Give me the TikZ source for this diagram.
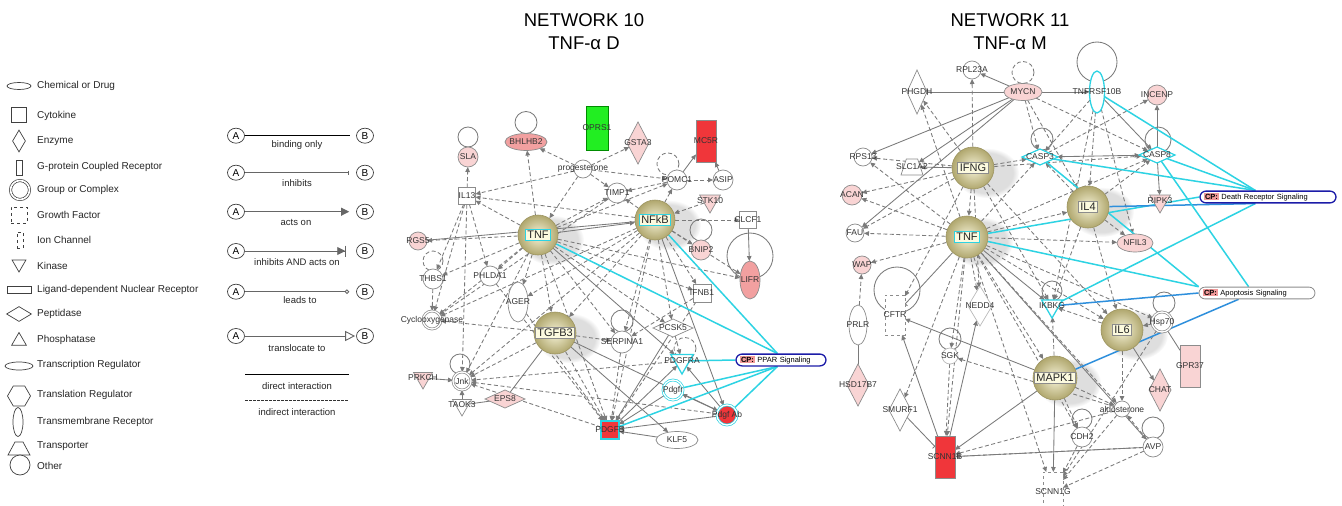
\documentclass[tikz,border=0pt]{standalone}
\usepackage{fontspec}
\setmainfont{Liberation Sans}
\usetikzlibrary{shapes.geometric,arrows.meta,calc,fadings}
\pgfdeclarelayer{paperlayer}
\pgfdeclarelayer{shadowlayer}
\pgfdeclarelayer{edgelayer}
\pgfsetlayers{paperlayer,shadowlayer,edgelayer,main}

\definecolor{ngray}{HTML}{8C8C8C}
\definecolor{egray}{HTML}{7A7A7A}
\definecolor{pinkA}{HTML}{F9D4D4}
\definecolor{pinkB}{HTML}{F2A0A0}
\definecolor{redA}{HTML}{F0363A}
\definecolor{greenA}{HTML}{22EE22}
\definecolor{goldIn}{HTML}{F6F3D8}
\definecolor{goldOut}{HTML}{B0A76E}
\definecolor{goldEdge}{HTML}{9C9460}
\definecolor{cream}{HTML}{FCFADF}
\definecolor{cyanA}{HTML}{2DD3E3}
\definecolor{blueA}{HTML}{2E8FDC}
\definecolor{cpblue}{HTML}{1C1CA8}
\definecolor{cppink}{HTML}{F29A9A}

\newcommand\legfont{\fontsize{10}{12}\selectfont}
\newcommand\lblfont{\fontsize{8.5}{9}\selectfont}
\newcommand\bigfont{\fontsize{11}{12}\selectfont}
\newcommand\cpfont{\fontsize{7.5}{8}\selectfont}
\newcommand\ttlfont{\fontsize{18.5}{22}\selectfont}
\newcommand\cptag{{\setlength{\fboxsep}{1pt}\colorbox{cppink}{\textbf{CP:}}}}

\tikzset{
  nd/.style={draw=ngray, line width=0.7pt, fill=white, inner sep=0pt, outer sep=0pt},
  nlbl/.style={font=\lblfont, text=black!80, inner sep=0pt},
  lab/.style={label={[nlbl]center:#1}},
  circ/.style={nd, circle, minimum size=#1},
  circ/.default=20pt,
  dbl/.style={nd, circle, double=white, double distance=1.3pt, minimum size=#1},
  dbl/.default=18pt,
  ell/.style 2 args={nd, ellipse, minimum width=#1, minimum height=#2},
  rect/.style 2 args={nd, rectangle, minimum width=#1, minimum height=#2},
  dia/.style 2 args={nd, diamond, minimum width=#1, minimum height=#2},
  kin/.style={nd, regular polygon, regular polygon sides=3, shape border rotate=180, minimum size=#1},
  kin/.default=24pt,
  trap/.style={nd, trapezium, trapezium stretches=true, trapezium left angle=65, trapezium right angle=65, inner sep=1pt, minimum width=22pt, minimum height=16pt},
  bignode/.style={circle, minimum size=#1, inner sep=0pt, draw=goldEdge, line width=0.6pt, inner color=goldIn, outer color=goldOut},
  biglbl/.style={draw=#1, fill=cream, line width=0.8pt, inner xsep=2pt, inner ysep=1.5pt, font=\bigfont, text=black!85},
  biglbl/.default=ngray,
  dedge/.style={draw=egray, line width=0.85pt, dash pattern=on 4pt off 2.5pt, -{Triangle[length=5pt,width=4.5pt]}},
  sedge/.style={draw=egray, line width=0.85pt, -{Triangle[length=5pt,width=4.5pt]}},
  sline/.style={draw=egray, line width=0.85pt},
  dline/.style={draw=egray, line width=0.85pt, dash pattern=on 4pt off 2.5pt},
  ibedge/.style={draw=egray, line width=0.85pt, -{Bar[width=6pt]}},
  cyanedge/.style={draw=cyanA, line width=1.5pt},
  blueedge/.style={draw=blueA, line width=1.5pt},
  cpbox/.style={draw=#1, fill=white, line width=1.3pt, rounded corners=6pt, inner xsep=4pt, inner ysep=2pt, font=\cpfont, align=left},
  legtxt/.style={anchor=west, inner sep=0pt, font=\legfont, text=black!85},
  legsym/.style={draw=black!75, line width=0.7pt, fill=white, inner sep=0pt},
  abnode/.style={draw=black!75, line width=0.7pt, ellipse, minimum width=17pt, minimum height=15pt, inner sep=0pt, font=\legfont},
  elbl/.style={inner sep=0pt, font=\fontsize{9.5}{11}\selectfont, text=black!85},
  legline/.style={draw=black!60, line width=0.9pt, shorten >=7pt},
  ttl/.style={inner sep=0pt, font=\ttlfont},
  shadowblob/.style={fill=black!13, path fading=circle with fuzzy edge 20 percent}
}

\begin{document}
\begin{tikzpicture}[x=1pt, y=-1pt]
\useasboundingbox (0,0) rectangle (1342,506);
\begin{pgfonlayer}{paperlayer}
  \fill[white] (0,0) rectangle (1342,506);
\end{pgfonlayer}

% ---------------- node shape legend ----------------
\node[legsym, ellipse, minimum width=24pt, minimum height=7pt] (s1) at (19,86) {};
\node[legtxt] (l1) at (37,86) {Chemical or Drug};
\node[legsym, rectangle, minimum size=15pt] (s2) at (19,115) {};
\node[legtxt] (l2) at (37,116) {Cytokine};
\node[legsym, diamond, minimum width=13pt, minimum height=22pt] (s3) at (19,141) {};
\node[legtxt] (l3) at (37,141) {Enzyme};
\node[legsym, rectangle, minimum width=6pt, minimum height=15pt] (s4) at (19,168) {};
\node[legtxt] (l4) at (37,167) {G-protein Coupled Receptor};
\node[legsym, circle, double=white, double distance=1.6pt, minimum size=19pt] (s5) at (20,190) {};
\node[legtxt] (l5) at (37,190) {Group or Complex};
\node[legsym, rectangle, dashed, minimum size=16pt] (s6) at (19,215) {};
\node[legtxt] (l6) at (37,215) {Growth Factor};
\node[legsym, rectangle, dashed, minimum width=6pt, minimum height=16pt] (s7) at (20,240) {};
\node[legtxt] (l7) at (37,240) {Ion Channel};
\node[legsym, regular polygon, regular polygon sides=3, shape border rotate=180, minimum size=16pt] (s8) at (19,264) {};
\node[legtxt] (l8) at (37,266) {Kinase};
\node[legsym, rectangle, minimum width=24pt, minimum height=7pt] (s9) at (19,290) {};
\node[legtxt] (l9) at (37,290) {Ligand-dependent Nuclear Receptor};
\node[legsym, diamond, minimum width=25pt, minimum height=15pt] (s10) at (19,314) {};
\node[legtxt] (l10) at (37,314) {Peptidase};
\node[legsym, regular polygon, regular polygon sides=3, minimum size=17pt] (s11) at (19,341) {};
\node[legtxt] (l11) at (37,340) {Phosphatase};
\node[legsym, ellipse, minimum width=28pt, minimum height=8pt] (s12) at (19,366) {};
\node[legtxt] (l12) at (37,365) {Transcription Regulator};
\node[legsym, regular polygon, regular polygon sides=6, minimum size=23pt] (s13) at (19,396) {};
\node[legtxt] (l13) at (37,395) {Translation Regulator};
\node[legsym, ellipse, minimum width=10pt, minimum height=29pt] (s14) at (18,422) {};
\node[legtxt] (l14) at (37,422) {Transmembrane Receptor};
% transporter symbol: a trapezium drawn around a named anchor point
\coordinate (s15) at (19,448);
\draw[legsym] ($(s15)+(-11,7)$) -- ($(s15)+(11,7)$) -- ($(s15)+(4,-6)$) -- ($(s15)+(-4,-6)$) -- cycle;
\node[legtxt] (l15) at (37,446) {Transporter};
\node[legsym, circle, minimum size=20pt] (s16) at (20,465) {};
\node[legtxt] (l16) at (37,466) {Other};

% ---------------- relationship legend ----------------
\foreach \i/\y in {1/135.7, 2/172.7, 3/211.7, 4/251, 5/291.7, 6/336} {
  \node[abnode] (a\i) at (236,\y) {A};
  \node[abnode] (b\i) at (365,\y) {B};
}
\draw[draw=black, line width=0.9pt, shorten >=6pt] (a1) -- (b1);
\draw[legline, -{Bar[width=4pt]}] (a2) -- (b2);
\draw[legline, -{Triangle[length=8pt,width=8pt]}] (a3) -- (b3);
\draw[legline, shorten >=10pt, -{Triangle[length=8pt,width=8pt] Bar[width=11pt]}] (a4) -- (b4);
\draw[legline, -{Circle[open,length=4.5pt]}] (a5) -- (b5);
\draw[legline, shorten >=1pt, -{Triangle[open,length=10pt,width=10pt]}] (a6) -- (b6);
\node[elbl] (e1) at (297,145) {binding only};
\node[elbl] (e2) at (297,183.5) {inhibits};
\node[elbl] (e3) at (296,222.3) {acts on};
\node[elbl] (e4) at (297,262) {inhibits AND acts on};
\node[elbl] (e5) at (300,300.5) {leads to};
\node[elbl] (e6) at (297,348.3) {translocate to};
\coordinate (dA) at (245,374);
\coordinate (dB) at (349,374);
\coordinate (iA) at (245,400);
\coordinate (iB) at (349,400);
\draw[black, line width=0.8pt] (dA) -- (dB);
\draw[black!80, line width=0.8pt, dash pattern=on 2.5pt off 1.5pt] (iA) -- (iB);
\node[elbl] (e7) at (297,385.7) {direct interaction};
\node[elbl] (e8) at (297,412) {indirect interaction};

% ---------------- titles ----------------
\node[ttl] (t10a) at (584,20) {NETWORK 10};
\node[ttl] (t10b) at (584,43) {TNF-α D};
\node[ttl] (t11a) at (1010,20) {NETWORK 11};
\node[ttl] (t11b) at (1010,43) {TNF-α M};

% ================= NETWORK 10 =================
\node[circ, fill=pinkA, lab=SLA] (sla) at (468,157) {};
\node[ell={42pt}{17pt}, fill=pinkB, lab=BHLHB2] (bhlhb2) at (526,142) {};
\node[rect={22pt}{44pt}, fill=greenA, draw=green!55!black, lab=OPRS1] (oprs1) at (597,128) {};
\node[dia={22pt}{42pt}, fill=pinkA, lab=GSTA3] (gsta3) at (638,143) {};
\node[rect={20pt}{42pt}, fill=redA, lab=MC5R] (mc5r) at (706,141) {};
\node[circ=18pt, lab=progesterone] (prog) at (583,169) {};
\node[circ, lab=POMC1] (pomc1) at (677,180) {};
\node[circ, lab=ASIP] (asip) at (723,180) {};
\node[circ, lab=TIMP1] (timp1) at (617,193) {};
\node[kin, fill=pinkA, lab=STK10] (stk10) at (710,201) {};
\node[rect={17pt}{17pt}, lab=IL13] (il13) at (467,196) {};
\node[rect={17pt}{17pt}, lab=CLCF1] (clcf1) at (748,220) {};
\node[circ=18pt, fill=pinkA, lab=RGS5] (rgs5) at (418,241) {};
\node[circ, fill=pinkA, lab=BNIP2] (bnip2) at (701,250) {};
\node[ell={20pt}{38pt}, fill=pinkB, lab=LIFR] (lifr) at (750,280) {};
\node[circ, lab=THBS1] (thbs1) at (433,279) {};
\node[circ, lab=PHLDA1] (phlda1) at (490,276) {};
\node[rect={18pt}{18pt}, lab=IFNB1] (ifnb1) at (702,293) {};
\node[ell={20pt}{40pt}, lab=AGER] (ager) at (518,302) {};
\node[dbl, lab=Cyclooxygenase] (cyclo) at (432,320) {};
\node[dia={40pt}{18pt}, lab=PCSK5] (pcsk5) at (673,328) {};
\node[circ=22pt, lab=SERPINA1] (serpina1) at (622,342) {};
\node[kin=26pt, draw=cyanA, line width=1.3pt, lab=PDGFRA] (pdgfra) at (682,361) {};
\node[dbl=20pt, draw=cyanA, lab=Pdgfr] (pdgfr) at (673,390) {};
\node[dbl, lab=Jnk] (jnk) at (462,381) {};
\node[kin=22pt, fill=pinkA, lab=PRKCH] (prkch) at (423,378) {};
\node[kin=22pt, lab=TAOK3] (taok3) at (462,405) {};
\node[dia={40pt}{18pt}, fill=pinkA, lab=EPS8] (eps8) at (505,399) {};
\node[dbl=20pt, fill=redA, draw=cyanA, lab=Pdgf Ab] (pdgfab) at (727,415) {};
\node[rect={18pt}{18pt}, fill=redA, draw=cyanA, line width=1.2pt, lab=PDGFB] (pdgfb) at (610,430) {};
\node[ell={42pt}{17pt}, lab=KLF5] (klf5) at (677,440) {};

\node[bignode=40pt] (tnf10) at (538,235) {};
\node[biglbl=cyanA] (tnf10l) at (tnf10) {TNF};
\node[bignode=40pt] (nfkb) at (655,220) {};
\node[biglbl=cyanA] (nfkbl) at (nfkb) {NFkB};
\node[bignode=42pt] (tgfb3) at (555,333) {};
\node[biglbl] (tgfb3l) at (tgfb3) {TGFB3};

\node[cpbox=cpblue, text width=82pt] (ppar) at (781,360) {\cptag\ PPAR Signaling};

% ================= NETWORK 11 =================
\node[circ=18pt, lab=RPL23A] (rpl23a) at (972,70) {};
\node[dia={20pt}{44pt}, lab=PHGDH] (phgdh) at (917,92) {};
\node[ell={38pt}{17pt}, fill=pinkA, lab=MYCN] (mycn) at (1023,92) {};
\node[ell={15pt}{42pt}, draw=cyanA, line width=1.3pt, lab=TNFRSF10B] (tnfrsf) at (1097,92) {};
\node[circ, fill=pinkA, lab=INCENP] (incenp) at (1157,95) {};
\node[circ=18pt, lab=RPS13] (rps13) at (863,157) {};
\node[trap, lab=SLC1A2] (slc1a2) at (912,167) {};
\node[dia={36pt}{16pt}, draw=cyanA, line width=1.2pt, lab=CASP3] (casp3) at (1040,157) {};
\node[dia={36pt}{16pt}, draw=cyanA, line width=1.2pt, lab=CASP8] (casp8) at (1157,155) {};
\node[circ, fill=pinkA, lab=ACAN] (acan) at (852,195) {};
\node[kin, fill=pinkA, lab=RIPK3] (ripk3) at (1160,201) {};
\node[circ=18pt, lab=FAU] (fau) at (855,233) {};
\node[ell={36pt}{18pt}, fill=pinkA, lab=NFIL3] (nfil3) at (1135,243) {};
\node[circ=18pt, fill=pinkA, lab=WAP] (wap) at (862,265) {};
\node[rect={20pt}{40pt}, dashed, lab=CFTR] (cftr) at (895,315) {};
\node[dia={24pt}{40pt}, draw=ngray!60, lab=NEDD4] (nedd4) at (980,306) {};
\node[kin, draw=cyanA, line width=1.3pt, lab=IKBKG] (ikbkg) at (1052,306) {};
\node[dbl=20pt, lab=Hsp70] (hsp70) at (1162,322) {};
\node[ell={18pt}{40pt}, lab=PRLR] (prlr) at (858,325) {};
\node[circ=16pt, draw=ngray!60, lab=SGK] (sgk) at (950,356) {};
\node[rect={20pt}{42pt}, fill=pinkA, lab=GPR37] (gpr37) at (1190,366) {};
\node[dia={22pt}{42pt}, fill=pinkA, lab=CHAT] (chat) at (1160,390) {};
\node[dia={22pt}{42pt}, fill=pinkA, lab=HSD17B7] (hsd17b7) at (858,385) {};
\node[dia={22pt}{42pt}, lab=SMURF1] (smurf1) at (900,410) {};
\node[circ=16pt, lab=aldosterone] (aldo) at (1122,409) {};
\node[circ, lab=CDH2] (cdh2) at (1082,437) {};
\node[circ, lab=AVP] (avp) at (1153,447) {};
\node[rect={20pt}{42pt}, fill=redA, lab=SCNN1B] (scnn1b) at (945,457) {};
\node[rect={20pt}{40pt}, dashed, lab=SCNN1G] (scnn1g) at (1053,492) {};

\node[bignode=42pt] (ifng) at (973,168) {};
\node[biglbl] (ifngl) at (ifng) {IFNG};
\node[bignode=42pt] (il4) at (1088,207) {};
\node[biglbl] (il4l) at (il4) {IL4};
\node[bignode=42pt] (tnf11) at (967,237) {};
\node[biglbl=cyanA] (tnf11l) at (tnf11) {TNF};
\node[bignode=42pt] (il6) at (1122,330) {};
\node[biglbl] (il6l) at (il6) {IL6};
\node[bignode=44pt] (mapk1) at (1055,378) {};
\node[biglbl] (mapk1l) at (mapk1) {MAPK1};

\node[cpbox=cpblue, text width=128pt] (death) at (1268,197) {\cptag\ Death Receptor Signaling};
\node[cpbox=ngray, line width=0.8pt, text width=108pt] (apop) at (1257,293) {\cptag\ Apoptosis Signaling};

% ---------------- soft shadows behind the hub nodes ----------------
\begin{pgfonlayer}{shadowlayer}
  \foreach \n in {tnf10,nfkb,tgfb3,ifng,il4,tnf11,il6,mapk1} {
    \fill[shadowblob] ($(\n)+(14,5)$) ellipse[x radius=32pt, y radius=25pt];
  }
\end{pgfonlayer}

% ---------------- connectors ----------------
\begin{pgfonlayer}{edgelayer}
  % network 10: TNF hub
  \foreach \t in {il13,bhlhb2,rgs5,thbs1,phlda1,ager,cyclo,jnk,serpina1,pdgfb,timp1,pcsk5,ifnb1,pomc1,tgfb3,lifr}
    \draw[dedge] (tnf10) -- (\t);
  \draw[sedge] (tnf10) -- (nfkb);
  \draw[sedge] (tnf10) -- (pdgfra);
  % progesterone
  \foreach \t in {bhlhb2,gsta3,pomc1,timp1,il13,tnf10}
    \draw[dedge] (prog) -- (\t);
  % IL13
  \foreach \t in {sla,thbs1,jnk,cyclo,phlda1}
    \draw[dedge] (il13) -- (\t);
  % NFkB hub
  \foreach \t in {timp1,il13,pomc1,clcf1,lifr,ifnb1,pcsk5,serpina1,pdgfb,jnk,tgfb3,ager,bnip2,cyclo}
    \draw[dedge] (nfkb) -- (\t);
  \draw[sedge] (nfkb) -- (pdgfab);
  \draw[sline] (nfkb) -- (rgs5);
  % upper right cluster
  \draw[dedge] (pomc1) -- (asip);
  \draw[sedge] (pomc1) -- (mc5r);
  \draw[sedge] (asip) -- (mc5r);
  \draw[dedge] (pomc1) -- (timp1);
  \draw[dedge] (timp1) -- (cyclo);
  \draw[sedge] (clcf1) -- (lifr);
  \draw[dedge] (stk10) -- (nfkb);
  % TGFB3
  \foreach \t in {jnk,cyclo,pdgfb,serpina1}
    \draw[dedge] (tgfb3) -- (\t);
  \draw[sline] (tgfb3) -- (eps8);
  \draw[sedge] (tgfb3) -- (pdgfab);
  \draw[sedge] (tgfb3) -- (klf5);
  % lower cluster
  \draw[sedge] (prkch) -- (jnk);
  \draw[sedge] (taok3) -- (jnk);
  \draw[sline] (eps8) -- (taok3);
  \draw[sedge] (pdgfr) -- (pdgfb);
  \draw[sedge] (pdgfb) -- (pdgfra);
  \draw[sedge] (pdgfab) -- (pdgfb);
  \draw[sedge] (pdgfab) -- (pdgfra);
  \draw[sedge] (pdgfab) -- (pdgfr);
  \draw[sedge] (klf5) -- (pdgfb);
  \draw[sedge] (pcsk5) -- (pdgfb);
  \draw[dedge] (pcsk5) -- (pdgfra);
  \draw[dedge] (ifnb1) -- (pdgfb);
  \draw[dedge] (ager) -- (pdgfb);
  \draw[dedge] (phlda1) -- (pdgfb);
  \draw[dedge] (serpina1) -- (pdgfb);
  \draw[dedge] (pdgfb) -- (jnk);
  \draw[dedge] (pdgfra) -- (jnk);
  \draw[dedge] (pdgfab) -- (jnk);
  \draw[dedge] (ifnb1) -- (serpina1);
  \draw[dedge] (thbs1) -- (cyclo);
  % self loops
  \draw[sline] ($(sla.north)+(0,-10)$) circle[radius=10pt];
  \draw[sline] ($(bhlhb2.north)+(0,-11)$) circle[radius=11pt];
  \draw[dline] ($(pomc1.north west)+(-2,-9)$) circle[radius=11pt];
  \draw[sline] ($(serpina1.north)+(0,-10)$) circle[radius=11pt];
  \draw[sline] ($(bnip2.north)+(0,-10)$) circle[radius=11pt];
  \draw[sline] (750,256) circle[radius=23pt];
  \draw[dline] ($(thbs1.north)+(0,-8)$) circle[radius=10pt];
  \draw[dline] ($(pdgfra.north)+(3,-6)$) circle[radius=11pt];
  \draw[sline] ($(jnk.north)+(-2,-8)$) circle[radius=10pt];

  % PPAR signalling links
  \draw[cyanedge] ([xshift=42pt]ppar.north west) -- (tnf10);
  \draw[cyanedge] ([xshift=42pt]ppar.north west) -- (nfkb);
  \draw[cyanedge] (ppar.west) -- (pdgfra);
  \draw[cyanedge] ([xshift=42pt]ppar.south west) -- (pdgfr);
  \draw[cyanedge] ([xshift=42pt]ppar.south west) -- (pdgfb);
  \draw[cyanedge] ([xshift=42pt]ppar.south west) -- (pdgfab);

  % network 11: MYCN
  \draw[ibedge] (mycn) -- (phgdh);
  \foreach \t in {rpl23a,rps13,slc1a2,fau,tnfrsf}
    \draw[sedge] (mycn) -- (\t);
  \foreach \t in {casp3,casp8,il4}
    \draw[dedge] (mycn) -- (\t);
  % TNFRSF10B and caspases
  \draw[dedge] (tnfrsf) -- (casp3);
  \draw[sedge] (tnfrsf) -- (casp8);
  \draw[dedge] (tnfrsf) -- (il4);
  \draw[dedge] (tnfrsf) -- (ikbkg);
  \draw[dedge] (tnfrsf) -- (nfil3);
  \draw[draw=egray, line width=0.85pt, {Triangle[length=5pt,width=4.5pt]}-{Triangle[length=5pt,width=4.5pt]}] (casp3) -- (casp8);
  \draw[sedge] (casp8) -- (incenp);
  \draw[dedge] (casp3) -- (incenp);
  \draw[sedge] (casp8) -- (ripk3);
  % IFNG hub
  \foreach \t in {phgdh,rps13,acan,casp3,casp8,tnf11,fau,ikbkg,il6,rpl23a,nedd4,cftr}
    \draw[dedge] (ifng) -- (\t);
  \draw[sedge] (ifng) -- (slc1a2);
  % TNF hub
  \foreach \t in {fau,wap,acan,rps13,phgdh,casp3,casp8,il4,nfil3,il6,mapk1,nedd4,sgk,smurf1,scnn1b,hsp70,aldo,cdh2,scnn1g}
    \draw[dedge] (tnf11) -- (\t);
  \draw[sedge] (tnf11) -- (ikbkg);
  \draw[ibedge] (tnf11) -- (cftr);
  \draw[sedge] (tnf11) -- (avp);
  % IL4, IL6, MAPK1
  \foreach \t in {casp3,nfil3,il6,ikbkg,casp8}
    \draw[dedge] (il4) -- (\t);
  \draw[dedge] (hsp70) -- (il6);
  \draw[sedge] (il6) -- (chat);
  \draw[sline] (hsp70) -- (gpr37);
  \draw[dedge] (il6) -- (ikbkg);
  \draw[dedge] (mapk1) -- (ikbkg);
  \draw[sedge] (mapk1) -- (scnn1g);
  \draw[dedge] (mapk1) -- (cdh2);
  \draw[dedge] (mapk1) -- (aldo);
  \draw[sedge] (mapk1) -- (scnn1b);
  \draw[sedge] (mapk1) -- (cftr);
  \draw[dedge] (il6) -- (aldo);
  % lower cluster
  \draw[sedge] (scnn1b) -- (cftr);
  \draw[ibedge] (smurf1) -- (scnn1b);
  \draw[dedge] (aldo) -- (scnn1b);
  \draw[dedge] (aldo) -- (scnn1g);
  \draw[dedge] (avp) -- (aldo);
  \draw[dedge] (aldo) -- (sgk);
  \draw[sedge] (scnn1b) -- (nedd4);
  \draw[dedge] (sgk) -- (scnn1b);
  \draw[dedge] (cdh2) -- (scnn1g);
  \draw[dedge] (avp) -- (scnn1g);
  \draw[dedge] (avp) -- (scnn1b);
  \draw[sline] (scnn1b) -- (avp);
  \draw[dedge] (prlr) -- (wap);
  \draw[sline] (hsd17b7) -- (prlr);
  \draw[dedge] (hsp70) -- (scnn1g);
  % self loops
  \draw[dline] ($(mycn.north)+(0,-11)$) circle[radius=11pt];
  \draw[sline] ($(tnfrsf.north)+(0,-9)$) circle[radius=20pt];
  \draw[sline] ($(casp3.north)+(2,-10)$) circle[radius=11pt];
  \draw[sline] ($(casp8.north)+(1,-7)$) circle[radius=13pt];
  \draw[sline] (897,290) circle[radius=23pt];
  \draw[sline] ($(sgk.north)+(0,-9)$) circle[radius=11pt];
  \draw[sline] ($(avp.north)+(0,-9)$) circle[radius=11pt];
  \draw[sline] ($(cdh2.north)+(0,-8)$) circle[radius=10pt];
  \draw[sline] ($(hsp70.north)+(2,-9)$) circle[radius=11pt];
  \draw[sline] ($(ikbkg.north)+(0,-9)$) circle[radius=10pt];

  % canonical pathway links
  \draw[cyanedge] ([xshift=56pt]death.north west) -- (tnfrsf);
  \draw[cyanedge] ([xshift=56pt]death.north west) -- (casp8);
  \draw[cyanedge] ([xshift=56pt]death.north west) -- (casp3);
  \draw[cyanedge] (death.west) -- (tnf11);
  \draw[cyanedge] ([xshift=56pt]death.south west) -- (ikbkg);
  \draw[blueedge] ([xshift=56pt]death.south west) -- (il4);
  \draw[cyanedge] ([xshift=50pt]apop.north west) -- (casp8);
  \draw[cyanedge] (apop.north west) -- (casp3);
  \draw[cyanedge] (apop.north west) -- (tnf11);
  \draw[blueedge] (apop.west) -- (ikbkg);
  \draw[blueedge] ([xshift=40pt]apop.south west) -- (mapk1);
\end{pgfonlayer}
\end{tikzpicture}
\end{document}
